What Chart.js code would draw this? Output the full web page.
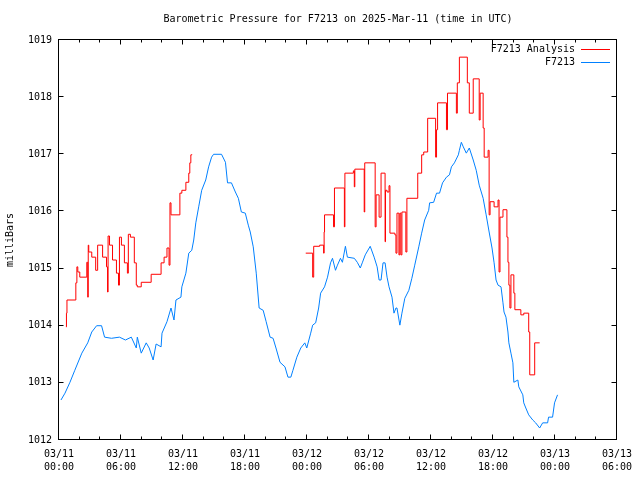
<!DOCTYPE html>
<html lang="en">
<head>
    <meta charset="UTF-8">
    <title>Barometric Pressure for F7213</title>
    <script src="https://cdn.jsdelivr.net/npm/chart.js"></script>
    <style>
        body { margin: 0; background: #fff; }
        canvas { display: block; }
    </style>
</head>
<body>
    <canvas id="baroChart" width="640" height="480"></canvas>
    <script>
        // hours since 03/11 00:00 UTC, pressure in millibars
        const blueHours = [0.19, 0.58, 1.06, 1.53, 2.21, 2.78, 3.17, 3.64, 4.12, 4.41, 5.08, 5.85, 6.43, 7.00, 7.48, 7.58,
            7.96, 8.44, 8.73, 9.11, 9.40, 9.88, 9.97, 10.45, 10.84, 11.13, 11.32, 11.80, 11.89, 12.28, 12.56, 12.85,
            13.04, 13.24, 13.52, 13.81, 14.20, 14.48, 14.77, 14.96, 15.73, 16.11, 16.31, 16.69, 17.07, 17.36, 17.65,
            18.03, 18.32, 18.51, 18.80, 19.09, 19.37, 19.76, 20.05, 20.43, 20.72, 21.00, 21.39, 21.87, 22.16, 22.44,
            22.64, 23.02, 23.40, 23.79, 23.98, 24.36, 24.55, 24.84, 25.13, 25.32, 25.70, 25.99, 26.28, 26.47, 26.76,
            26.95, 27.24, 27.43, 27.72, 27.91, 28.58, 28.87, 29.16, 29.35, 29.64, 30.12, 30.50, 30.79, 30.98, 31.17,
            31.36, 31.56, 31.75, 31.94, 32.23, 32.42, 32.61, 32.71, 32.99, 33.19, 33.47, 33.86, 34.15, 34.43, 34.82,
            35.10, 35.39, 35.78, 35.87, 36.26, 36.54, 36.83, 37.12, 37.50, 37.79, 37.98, 38.27, 38.65, 38.75, 38.94,
            39.13, 39.42, 39.71, 40.09, 40.38, 40.67, 41.05, 41.34, 41.63, 41.91, 42.11, 42.30, 42.49, 42.78, 42.97,
            43.07, 43.26, 43.45, 43.54, 43.74, 43.93, 44.02, 44.41, 44.50, 44.89, 44.98, 45.18, 45.46, 45.85, 46.13,
            46.52, 46.81, 47.29, 47.38, 47.77, 47.96, 48.25];
        const blueValues = [1012.70, 1012.82, 1013.01, 1013.22, 1013.52, 1013.70, 1013.89, 1014.00, 1014.00, 1013.80,
            1013.78, 1013.80, 1013.75, 1013.80, 1013.61, 1013.80, 1013.52, 1013.70, 1013.61, 1013.40, 1013.68, 1013.63,
            1013.87, 1014.07, 1014.31, 1014.10, 1014.45, 1014.50, 1014.68, 1014.92, 1015.27, 1015.32, 1015.50, 1015.80,
            1016.08, 1016.37, 1016.55, 1016.78, 1016.95, 1017.00, 1017.00, 1016.86, 1016.50, 1016.50, 1016.34, 1016.23,
            1015.99, 1015.97, 1015.76, 1015.64, 1015.38, 1014.92, 1014.31, 1014.27, 1014.07, 1013.80, 1013.78, 1013.61,
            1013.36, 1013.28, 1013.10, 1013.10, 1013.22, 1013.45, 1013.61, 1013.70, 1013.61, 1013.87, 1014.01, 1014.05,
            1014.31, 1014.57, 1014.68, 1014.85, 1015.10, 1015.18, 1014.97, 1015.06, 1015.18, 1015.11, 1015.39, 1015.20,
            1015.18, 1015.11, 1015.01, 1015.10, 1015.24, 1015.39, 1015.20, 1015.03, 1014.80, 1014.80, 1015.10, 1015.10,
            1014.85, 1014.68, 1014.50, 1014.22, 1014.31, 1014.31, 1014.01, 1014.22, 1014.48, 1014.62, 1014.83, 1015.06,
            1015.38, 1015.62, 1015.85, 1016.02, 1016.15, 1016.16, 1016.32, 1016.32, 1016.50, 1016.60, 1016.64, 1016.78,
            1016.85, 1016.99, 1017.07, 1017.21, 1017.13, 1017.02, 1017.11, 1016.90, 1016.72, 1016.46, 1016.23, 1015.94,
            1015.64, 1015.36, 1015.10, 1014.80, 1014.71, 1014.68, 1014.40, 1014.24, 1014.15, 1013.89, 1013.70, 1013.52,
            1013.35, 1013.01, 1013.05, 1012.93, 1012.79, 1012.65, 1012.56, 1012.44, 1012.35, 1012.30, 1012.21, 1012.30,
            1012.30, 1012.40, 1012.40, 1012.65, 1012.79];

        // analysis is a step line; null marks the gap in the record
        const redHours = [0.67, 0.72, 0.77, 1.63, 1.73, 1.82, 2.01, 2.69, 2.78, 2.83, 2.88, 3.17, 3.55, 3.74, 4.22, 4.60,
            4.70, 4.75, 4.89, 5.18, 5.56, 5.76, 5.85, 6.04, 6.33, 6.62, 6.71, 6.91, 7.29, 7.48, 7.58, 7.96, 8.92, 9.88,
            10.17, 10.45, 10.65, 10.74, 10.84, 11.70, 11.89, 12.28, 12.56, 12.66, 12.76, 12.85,
            18.00,
            23.88, 24.55, 24.65, 25.23, 25.61, 25.66, 25.70, 26.57, 26.66, 27.62, 27.67, 28.49, 28.58, 28.63, 29.54,
            29.59, 30.60, 30.69, 30.98, 31.17, 31.56, 31.60, 31.75, 31.94, 32.03, 32.51, 32.61, 32.71, 32.90, 32.99,
            33.09, 33.19, 33.57, 33.67, 34.72, 35.10, 35.30, 35.68, 36.45, 36.54, 36.64, 37.50, 37.60, 38.46, 38.55,
            38.75, 39.52, 39.71, 40.09, 40.67, 40.76, 41.05, 41.15, 41.53, 41.63, 41.72, 42.11, 42.49, 42.59, 42.68,
            42.97, 43.35, 43.45, 43.54, 43.64, 43.74, 44.02, 44.12, 44.70, 44.98, 45.46, 45.56, 46.04, 46.52];
        const redValues = [1013.98, 1014.22, 1014.45, 1014.75, 1015.03, 1014.94, 1014.85, 1015.11, 1014.50, 1015.41,
            1015.29, 1015.20, 1014.97, 1015.41, 1015.20, 1015.03, 1014.59, 1015.57, 1015.41, 1015.15, 1014.92, 1014.71,
            1015.55, 1015.41, 1015.10, 1014.92, 1015.60, 1015.55, 1015.10, 1014.71, 1014.68, 1014.76, 1014.90, 1015.10,
            1015.20, 1015.36, 1015.06, 1016.15, 1015.94, 1016.32, 1016.37, 1016.51, 1016.67, 1016.85, 1016.99, 1017.00,
            null,
            1015.27, 1014.85, 1015.39, 1015.41, 1015.27, 1015.64, 1015.94, 1015.73, 1016.41, 1015.73, 1016.67, 1016.71,
            1016.43, 1016.74, 1015.99, 1016.85, 1015.73, 1016.29, 1015.90, 1016.67, 1015.47, 1016.37, 1016.34, 1016.45,
            1015.62, 1015.59, 1015.27, 1015.97, 1015.24, 1015.97, 1015.24, 1015.99, 1015.29, 1016.23, 1016.67, 1016.99,
            1017.04, 1017.63, 1016.95, 1017.43, 1017.90, 1017.43, 1018.07, 1017.72, 1018.25, 1018.70, 1018.25, 1017.72,
            1018.32, 1017.60, 1018.07, 1017.46, 1016.95, 1017.07, 1015.94, 1016.17, 1016.08, 1016.20, 1014.94, 1015.90,
            1016.03, 1015.55, 1015.11, 1014.71, 1014.31, 1014.89, 1014.57, 1014.28, 1014.19, 1014.22, 1013.89, 1013.14,
            1013.70, 1013.70];

        const xMin = 0, xMax = 54;          // 03/11 00:00 .. 03/13 06:00
        const yMin = 1012, yMax = 1019;
        const startDay = 11;
        const FONT = 'DejaVu Sans Mono';

        function toPoints(hours, values) {
            return hours.map((h, i) => ({ x: h, y: values[i] }));
        }

        function timeLabel(h) {
            const day = startDay + Math.floor(h / 24);
            const hr = Math.round(h % 24);
            return ['03/' + String(day).padStart(2, '0'), String(hr).padStart(2, '0') + ':00'];
        }

        // gnuplot style frame, inward ticks on all sides and the legend
        const framePlugin = {
            id: 'frame',
            afterDraw(chart) {
                const ctx = chart.ctx;
                const a = chart.chartArea;
                const xs = chart.scales.x, ys = chart.scales.y;
                const L = Math.round(a.left) - 0.5, R = Math.round(a.right) - 0.5;
                const T = Math.round(a.top) - 0.5, B = Math.round(a.bottom) - 0.5;
                ctx.save();
                ctx.strokeStyle = '#000';
                ctx.lineWidth = 1;
                ctx.beginPath();
                for (let h = xMin; h <= xMax; h += 2) {
                    const px = Math.round(xs.getPixelForValue(h)) - 0.5;
                    const len = h % 6 === 0 ? 5 : 3;
                    ctx.moveTo(px, B); ctx.lineTo(px, B - len);
                    ctx.moveTo(px, T); ctx.lineTo(px, T + len);
                }
                for (let v = yMin; v <= yMax; v++) {
                    const py = Math.round(ys.getPixelForValue(v)) - 0.5;
                    ctx.moveTo(L, py); ctx.lineTo(L + 5, py);
                    ctx.moveTo(R, py); ctx.lineTo(R - 5, py);
                }
                ctx.stroke();
                ctx.strokeRect(L, T, R - L, B - T);

                // legend, top right inside the frame
                ctx.font = '10px "' + FONT + '"';
                ctx.textAlign = 'right';
                ctx.textBaseline = 'middle';
                chart.data.datasets.forEach((ds, i) => {
                    const y = 49.5 + i * 13;
                    ctx.fillStyle = '#000';
                    ctx.fillText(ds.label, 575, y);
                    ctx.strokeStyle = ds.borderColor;
                    ctx.beginPath();
                    ctx.moveTo(581, y); ctx.lineTo(610, y);
                    ctx.stroke();
                });
                ctx.restore();
            }
        };

        const ctx = document.getElementById('baroChart').getContext('2d');
        const chart = new Chart(ctx, {
            type: 'line',
            data: {
                datasets: [{
                    label: 'F7213 Analysis',
                    data: toPoints(redHours, redValues),
                    borderColor: '#ff0000',
                    borderWidth: 1,
                    stepped: 'before',
                    spanGaps: false,
                    pointRadius: 0,
                    fill: false
                }, {
                    label: 'F7213',
                    data: toPoints(blueHours, blueValues),
                    borderColor: '#0080ff',
                    borderWidth: 1,
                    tension: 0,
                    pointRadius: 0,
                    fill: false
                }]
            },
            options: {
                responsive: false,
                animation: false,
                layout: { padding: { left: 0, right: 18, top: 0, bottom: 0 } },
                plugins: {
                    legend: { display: false },
                    tooltip: { enabled: false },
                    title: {
                        display: true,
                        fullSize: false,
                        text: 'Barometric Pressure for F7213 on 2025-Mar-11 (time in UTC)',
                        color: '#000',
                        font: { family: FONT, size: 10, weight: 'normal', lineHeight: 1.2 },
                        padding: { top: 13, bottom: 15 }
                    }
                },
                scales: {
                    x: {
                        type: 'linear',
                        min: xMin,
                        max: xMax,
                        grid: { display: false, drawTicks: false },
                        border: { display: false },
                        ticks: {
                            stepSize: 6,
                            autoSkip: false,
                            maxRotation: 0,
                            padding: 8,
                            color: '#000',
                            font: { family: FONT, size: 10, lineHeight: 1.3 },
                            callback: (v) => timeLabel(v)
                        },
                        afterFit: (s) => { s.height = 40; }
                    },
                    y: {
                        min: yMin,
                        max: yMax,
                        grid: { display: false, drawTicks: false },
                        border: { display: false },
                        ticks: {
                            stepSize: 1,
                            padding: 7,
                            color: '#000',
                            font: { family: FONT, size: 10 },
                            callback: (v) => String(v)
                        },
                        title: {
                            display: true,
                            text: 'milliBars',
                            color: '#000',
                            font: { family: FONT, size: 10 },
                            padding: { top: 4, bottom: 0 }
                        },
                        afterFit: (s) => { s.width = 59; }
                    }
                }
            },
            plugins: [framePlugin]
        });
    </script>
</body>
</html>
